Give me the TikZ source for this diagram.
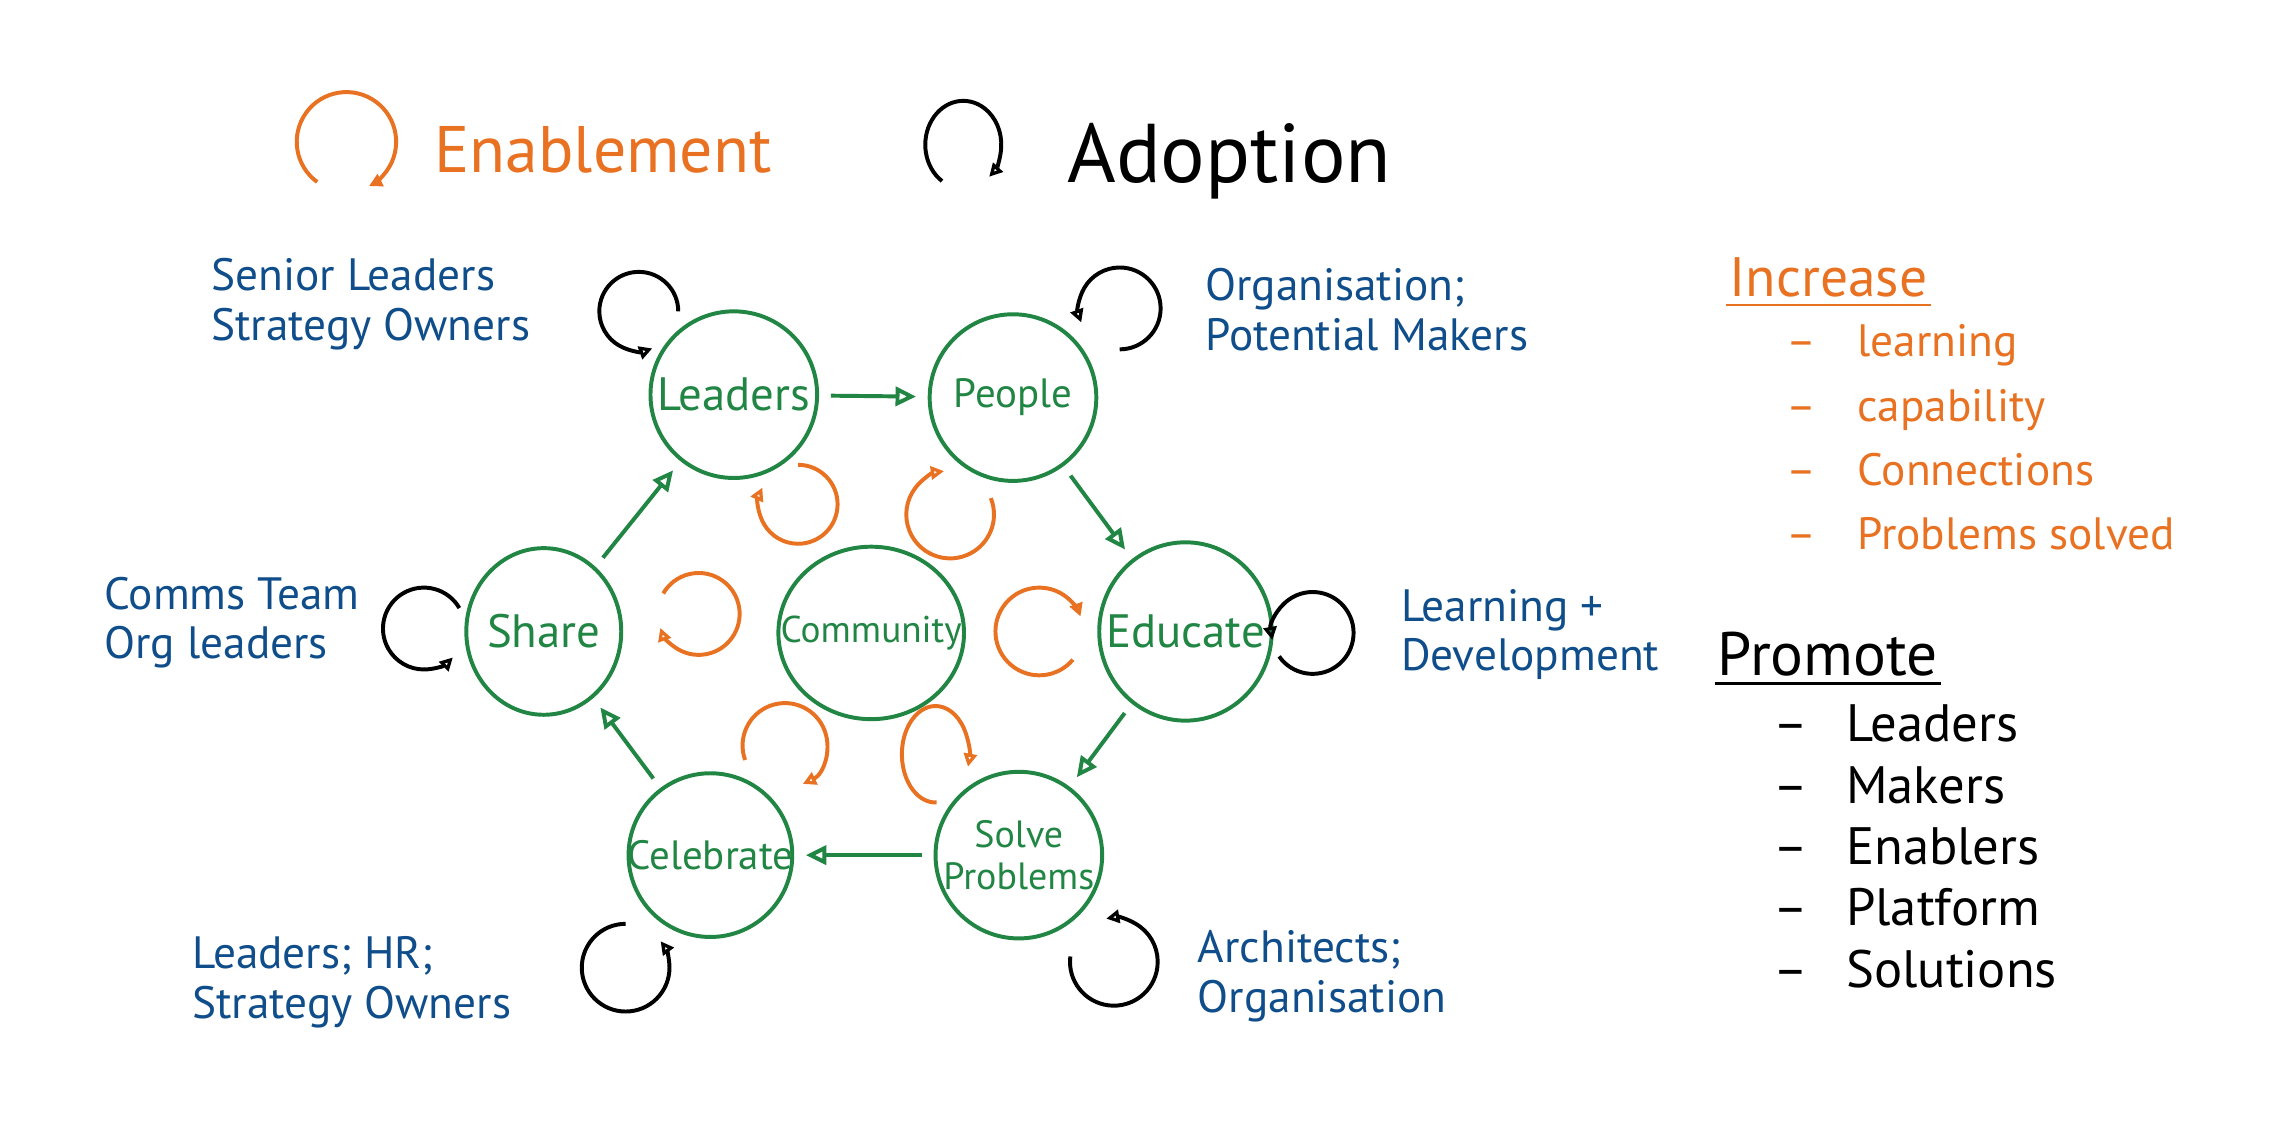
\documentclass[tikz,border=0pt]{standalone}
\usepackage{fontspec}
\setmainfont{PT Sans}
\usetikzlibrary{arrows.meta,shapes.geometric}

\definecolor{stagegreen}{RGB}{33,133,68}
\definecolor{enableorange}{RGB}{232,114,34}
\definecolor{whoblue}{RGB}{16,78,139}

\tikzset{
    stage/.style={ % green stage of the cycle
        draw=stagegreen,
        shape=ellipse,
        line width=2.7pt,
        minimum width=114pt,
        minimum height=114pt,
        inner xsep=-25pt,
        inner ysep=0pt,
        align=center,
        text=stagegreen,
        font=\fontsize{28}{28}\selectfont
    },
    bigstage/.style={ % stage with a short name, written larger
        stage,
        font=\fontsize{32}{34}\selectfont
    },
    who/.style={ % who takes part in a stage
        anchor=west,
        align=left,
        text=whoblue,
        font=\fontsize{31}{34}\selectfont
    },
    flow/.style={ % arrow from one stage to the next
        draw=stagegreen,
        line width=2.7pt,
        -{Triangle[open,length=14pt,width=13pt]},
        shorten <=8pt,
        shorten >=8pt
    },
    loopbase/.style={
        line width=2.7pt,
        -{Triangle[open,length=9pt,width=9pt]}
    },
    enableloop/.style={loopbase, draw=enableorange}, % orange loop
    adoptloop/.style={loopbase, draw=black}, % black loop
    heading/.style={
        anchor=base west,
        inner sep=2pt
    },
    itemlist/.style={
        anchor=north west,
        align=left,
        inner sep=0pt
    }
}

\begin{document}
\begin{tikzpicture}[x=1pt,y=-1pt]
    \useasboundingbox (0,0) rectangle (1568,783);

    % key
    \coordinate (enablekey) at (237,97);
    \draw[enableloop] (enablekey) ++(126:34) arc[start angle=126, end angle=423, radius=34];
    \node[heading, text=enableorange, font=\fontsize{45}{50}\selectfont] (enabletitle) at (295,118) {Enablement};
    \coordinate (adoptkey) at (659,99);
    \draw[adoptloop] (adoptkey) ++(124:26 and 30) arc[start angle=124, end angle=407, x radius=26, y radius=30];
    \node[heading, font=\fontsize{57}{60}\selectfont] (adopttitle) at (728,125) {Adoption};

    % stages
    \node[bigstage] (leaders) at (502,270) {Leaders};
    \node[stage] (people) at (693,272) {People};
    \node[bigstage, minimum width=106pt] (share) at (372,432) {Share};
    \node[stage, font=\fontsize{25.5}{27}\selectfont, minimum width=127pt, minimum height=118pt] (community) at (596,433) {Community};
    \node[bigstage, minimum width=118pt, minimum height=122pt] (educate) at (811,432) {Educate};
    \node[stage, font=\fontsize{26}{29}\selectfont] (solve) at (697,585) {Solve\\Problems};
    \node[stage, minimum width=112pt, minimum height=112pt] (celebrate) at (486,585) {Celebrate};

    \draw[flow] (leaders) -- (people);
    \draw[flow] (people) -- (educate);
    \draw[flow] (educate) -- (solve);
    \draw[flow] (solve) -- (celebrate);
    \draw[flow] (celebrate) -- (share);
    \draw[flow] (share) -- (leaders);

    % adoption loops
    \coordinate (leadersout) at (437,213);
    \draw[adoptloop] (leadersout) ++(0:27) arc[start angle=0, end angle=-290, radius=27];
    \coordinate (peopleout) at (766,211);
    \draw[adoptloop] (peopleout) ++(90:28) arc[start angle=90, end angle=-200, radius=28];
    \coordinate (shareout) at (290,430);
    \draw[adoptloop] (shareout) ++(-30:28) arc[start angle=-30, end angle=-315, radius=28];
    \coordinate (educateout) at (898,433);
    \draw[adoptloop] (educateout) ++(145:28) arc[start angle=145, end angle=-190, radius=28];
    \coordinate (celebrateout) at (428,662);
    \draw[adoptloop] (celebrateout) ++(-90:30) arc[start angle=-90, end angle=-397, radius=30];
    \coordinate (solveout) at (762,658);
    \draw[adoptloop] (solveout) ++(187:30) arc[start angle=187, end angle=-100, radius=30];

    % enablement loops
    \coordinate (leadersin) at (546,345);
    \draw[enableloop] (leadersin) ++(-90:27) arc[start angle=-90, end angle=205, radius=27];
    \coordinate (peoplein) at (650,352);
    \draw[enableloop] (peoplein) ++(-22:30) arc[start angle=-22, end angle=262, radius=30];
    \coordinate (sharein) at (478,420);
    \draw[enableloop] (sharein) ++(-150:28) arc[start angle=-150, end angle=160, radius=28];
    \coordinate (educatein) at (711,432);
    \draw[enableloop] (educatein) ++(40:30) arc[start angle=40, end angle=340, radius=30];
    \coordinate (celebratein) at (537,510);
    \draw[enableloop] (celebratein) ++(160:29) arc[start angle=160, end angle=425, radius=29];
    \coordinate (solvein) at (640,516);
    \draw[enableloop] (solvein) ++(88:23 and 33) arc[start angle=88, end angle=375, x radius=23, y radius=33];

    % who is involved
    \node[who] (seniorlab) at (141,208) {Senior Leaders\\Strategy Owners};
    \node[who] (orglab) at (821,212) {Organisation;\\Potential Makers};
    \node[who] (commslab) at (68,426) {Comms Team\\Org leaders};
    \node[who] (learnlab) at (955,434) {Learning +\\Development};
    \node[who] (hrlab) at (128,672) {Leaders; HR;\\Strategy Owners};
    \node[who] (archlab) at (816,668) {Architects;\\Organisation};

    % increase
    \node[heading, text=enableorange, font=\fontsize{38}{40}\selectfont] (increase) at (1181,203) {Increase};
    \draw[enableorange, line width=2pt] ([yshift=-3pt]increase.south west) -- ([yshift=-3pt]increase.south east);
    \node[itemlist, text=enableorange, font=\fontsize{31}{44}\selectfont] (increaselist) at (1222,222)
        {--\hspace{28pt}learning\\--\hspace{28pt}capability\\--\hspace{28pt}Connections\\--\hspace{28pt}Problems solved};

    % promote
    \node[heading, font=\fontsize{42}{46}\selectfont] (promote) at (1173,462) {Promote};
    \draw[line width=2pt] ([yshift=-3pt]promote.south west) -- ([yshift=-3pt]promote.south east);
    \node[itemlist, font=\fontsize{36}{42}\selectfont] (promotelist) at (1213,482)
        {--\hspace{26pt}Leaders\\--\hspace{26pt}Makers\\--\hspace{26pt}Enablers\\--\hspace{26pt}Platform\\--\hspace{26pt}Solutions};

\end{tikzpicture}
\end{document}
